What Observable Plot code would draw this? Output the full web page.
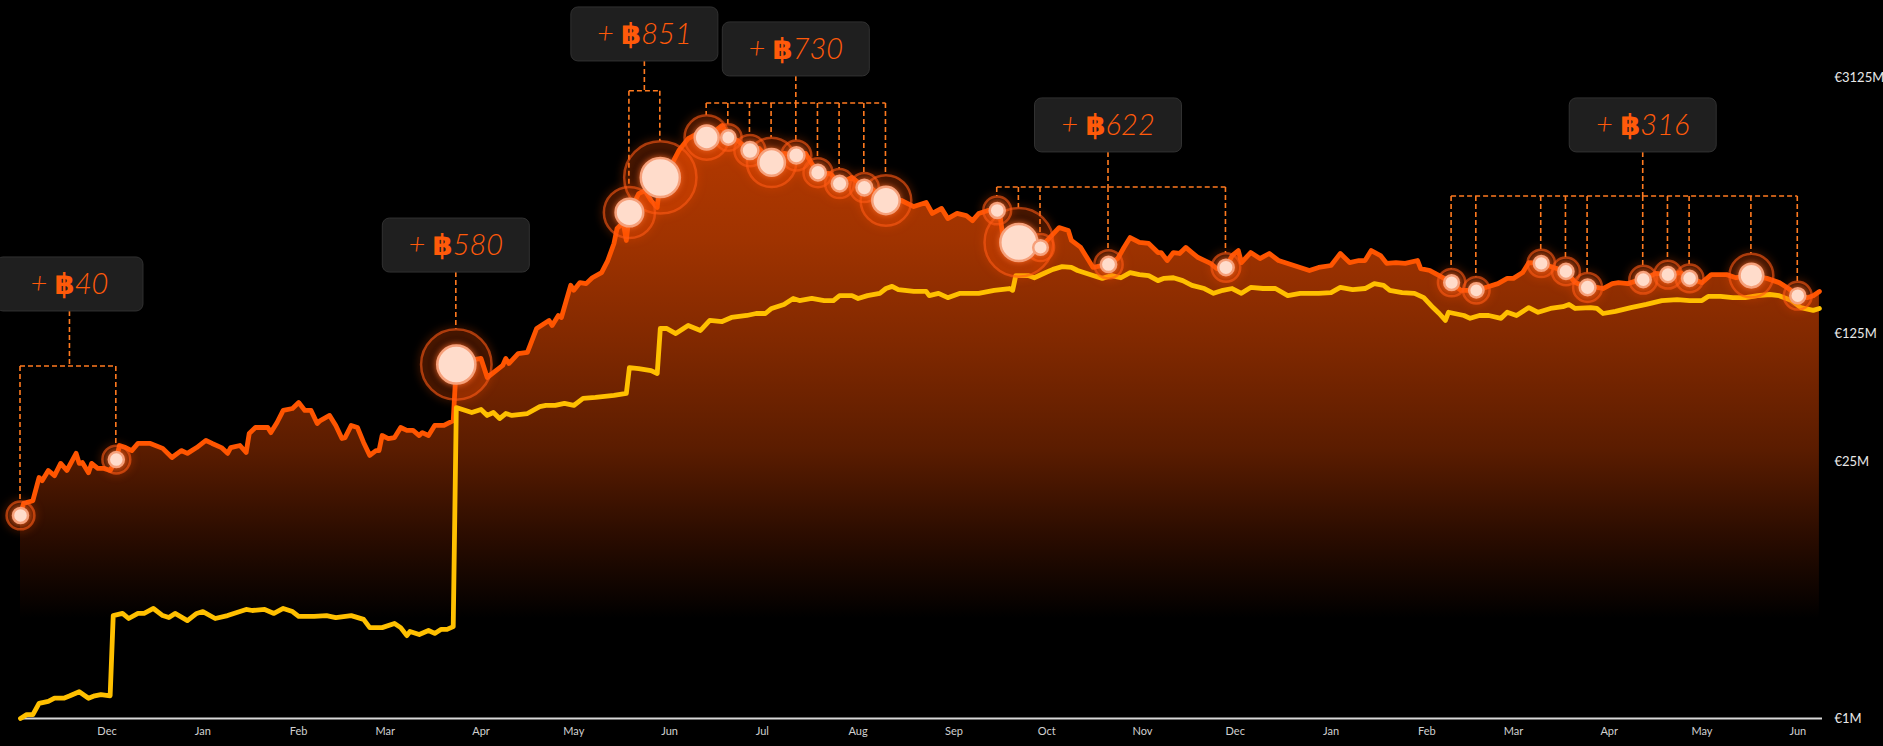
<!DOCTYPE html>
<html>
<head>
<meta charset="utf-8">
<script src="https://cdn.jsdelivr.net/npm/d3@7"></script>
<script src="https://cdn.jsdelivr.net/npm/@observablehq/plot@0.6"></script>
<style>
html, body { margin: 0; padding: 0; background: #000; overflow: hidden; }
#chart svg { display: block; }
</style>
</head>
<body>
<div id="chart"></div>
<script>
// Market value of the holdings, € millions (orange line + area)
const marketValue = [
["2020-11-03",12.8],["2020-11-04",14.9],["2020-11-07",15.4],["2020-11-09",20.6],["2020-11-10",19.8],["2020-11-12",22.5],["2020-11-14",21.1],["2020-11-16",24.6],["2020-11-18",22.5],["2020-11-21",27.9],["2020-11-22",24.6],["2020-11-23",24.9],["2020-11-25",21.9],["2020-11-26",24.6],["2020-11-28",23.1],["2020-11-30",23.1],
["2020-12-02",22.5],["2020-12-04",25.8],["2020-12-05",30.8],["2020-12-07",30.0],["2020-12-09",28.9],["2020-12-11",31.6],["2020-12-15",31.6],["2020-12-19",29.7],["2020-12-22",26.5],["2020-12-25",28.9],["2020-12-27",27.9],["2020-12-30",30.0],
["2021-01-02",32.8],["2021-01-04",31.6],["2021-01-07",30.0],["2021-01-09",27.9],["2021-01-10",30.0],["2021-01-13",30.8],["2021-01-15",28.2],["2021-01-16",35.8],["2021-01-18",38.6],["2021-01-22",38.6],["2021-01-23",36.2],["2021-01-25",41.1],["2021-01-27",47.8],["2021-01-30",49.0],
["2021-02-01",52.8],["2021-02-03",47.8],["2021-02-05",47.8],["2021-02-07",40.6],["2021-02-08",42.1],["2021-02-11",44.9],["2021-02-13",39.6],["2021-02-15",33.6],["2021-02-16",34.0],["2021-02-18",39.6],["2021-02-20",38.6],["2021-02-22",32.0],["2021-02-24",27.2],["2021-02-26",28.9],["2021-02-27",28.9],["2021-02-28",34.9],
["2021-03-02",33.6],["2021-03-04",34.0],["2021-03-06",38.6],["2021-03-08",37.2],["2021-03-10",37.2],["2021-03-12",34.9],["2021-03-13",36.2],["2021-03-15",34.9],["2021-03-17",39.6],["2021-03-20",39.6],["2021-03-23",42.1],["2021-03-24",85.1],["2021-03-28",89.5],
["2021-04-01",91.8],["2021-04-03",72.3],["2021-04-08",84.1],["2021-04-09",91.8],["2021-04-10",86.2],["2021-04-13",97.7],["2021-04-16",99.0],["2021-04-19",133.8],["2021-04-23",148],["2021-04-24",139],["2021-04-26",157.5],["2021-04-27",153.6],["2021-04-30",230],
["2021-05-01",216],["2021-05-03",238],["2021-05-05",235],["2021-05-07",253],["2021-05-10",270],["2021-05-12",314],["2021-05-14",389],["2021-05-15",469],["2021-05-17",506],["2021-05-18",404],["2021-05-19",574],["2021-05-22",728],["2021-05-24",756],["2021-05-26",667],["2021-05-28",611],["2021-05-29",891],
["2021-06-02",1076],["2021-06-04",1249],["2021-06-07",1451],["2021-06-10",1546],["2021-06-13",1471],["2021-06-18",1712],["2021-06-20",1471],["2021-06-23",1417],["2021-06-27",1249],["2021-06-30",1281],
["2021-07-04",1076],["2021-07-08",1205],["2021-07-12",1175],["2021-07-15",1205],["2021-07-17",1062],["2021-07-19",946],["2021-07-23",936],["2021-07-26",825],["2021-07-30",891],
["2021-08-03",785],["2021-08-05",785],["2021-08-10",667],["2021-08-15",667],["2021-08-19",618],["2021-08-23",651],["2021-08-25",567],["2021-08-28",604],["2021-08-30",532],
["2021-09-02",567],["2021-09-05",552],["2021-09-07",518],["2021-09-09",567],["2021-09-12",589],["2021-09-15",589],["2021-09-16",539],["2021-09-17",404],["2021-09-22",394],["2021-09-29",370],
["2021-10-02",419],["2021-10-05",475],["2021-10-08",458],["2021-10-09",404],["2021-10-12",370],["2021-10-14",326],["2021-10-16",288],["2021-10-19",295],["2021-10-21",299],["2021-10-24",322],["2021-10-26",370],["2021-10-28",419],["2021-10-31",394],
["2021-11-03",389],["2021-11-06",347],["2021-11-07",347],["2021-11-09",314],["2021-11-11",347],["2021-11-13",343],["2021-11-15",370],["2021-11-17",347],["2021-11-19",326],["2021-11-23",303],["2021-11-25",284],["2021-11-28",288],["2021-11-30",334],
["2021-12-02",356],["2021-12-03",306],["2021-12-06",347],["2021-12-09",322],["2021-12-12",343],["2021-12-15",314],["2021-12-20",295],["2021-12-25",277],["2021-12-28",288],
["2022-01-01",295],["2022-01-04",343],["2022-01-07",306],["2022-01-10",314],["2022-01-12",314],["2022-01-14",356],["2022-01-17",334],["2022-01-19",303],["2022-01-22",306],["2022-01-25",303],["2022-01-29",314],["2022-01-30",284],
["2022-02-02",277],["2022-02-05",260],["2022-02-09",238],["2022-02-12",216],["2022-02-17",216],["2022-02-20",224],["2022-02-24",235],["2022-02-27",251],
["2022-03-01",251],["2022-03-04",270],["2022-03-06",306],["2022-03-10",303],["2022-03-14",288],["2022-03-18",274],["2022-03-21",238],["2022-03-25",224],["2022-03-28",224],["2022-03-30",221],
["2022-04-02",235],["2022-04-04",238],["2022-04-07",235],["2022-04-10",244],["2022-04-12",247],["2022-04-16",267],["2022-04-20",263],["2022-04-24",270],["2022-04-27",251],
["2022-05-01",238],["2022-05-04",263],["2022-05-09",263],["2022-05-12",253],["2022-05-17",260],["2022-05-22",251],["2022-05-26",238],["2022-05-29",221],
["2022-06-01",202],["2022-06-04",197],["2022-06-06",202],["2022-06-08",213]
];

// Second series, € millions (yellow line)
const costBasis = [
["2020-11-03",1.0],["2020-11-05",1.05],["2020-11-07",1.05],["2020-11-09",1.21],["2020-11-12",1.24],["2020-11-14",1.29],["2020-11-17",1.29],["2020-11-19",1.33],["2020-11-22",1.40],["2020-11-25",1.29],["2020-11-27",1.33],["2020-11-29",1.35],
["2020-12-02",1.33],["2020-12-03",3.64],["2020-12-06",3.74],["2020-12-08",3.51],["2020-12-11",3.74],["2020-12-13",3.74],["2020-12-16",3.98],["2020-12-19",3.64],["2020-12-21",3.55],["2020-12-23",3.74],["2020-12-27",3.42],["2020-12-30",3.74],
["2021-01-01",3.83],["2021-01-05",3.51],["2021-01-09",3.64],["2021-01-11",3.74],["2021-01-15",3.93],["2021-01-17",3.88],["2021-01-21",3.93],["2021-01-24",3.74],["2021-01-27",3.98],["2021-01-30",3.83],
["2021-02-01",3.60],["2021-02-06",3.60],["2021-02-10",3.64],["2021-02-13",3.55],["2021-02-18",3.64],["2021-02-22",3.47],["2021-02-24",3.13],["2021-02-28",3.13],
["2021-03-04",3.30],["2021-03-06",3.13],["2021-03-08",2.83],["2021-03-09",2.98],["2021-03-12",2.87],["2021-03-15",3.02],["2021-03-17",2.91],["2021-03-19",3.06],["2021-03-21",3.06],["2021-03-23",3.17],["2021-03-24",49.6],["2021-03-29",46.6],
["2021-04-01",48.4],["2021-04-03",44.9],["2021-04-05",46.6],["2021-04-07",43.2],["2021-04-09",46.0],["2021-04-11",44.9],["2021-04-16",46.0],["2021-04-20",50.2],["2021-04-22",50.9],["2021-04-25",50.9],["2021-04-28",52.2],
["2021-05-01",50.9],["2021-05-04",55.6],["2021-05-08",56.3],["2021-05-14",57.7],["2021-05-18",59.2],["2021-05-19",81.9],["2021-05-22",80.9],["2021-05-26",78.9],["2021-05-28",76.0],["2021-05-29",133.8],["2021-05-31",133.8],
["2021-06-03",125.6],["2021-06-07",139],["2021-06-11",130.5],["2021-06-14",148],["2021-06-18",146],["2021-06-21",153.6],["2021-06-26",157.5],["2021-06-29",161.5],
["2021-07-02",161.5],["2021-07-04",172],["2021-07-08",181],["2021-07-11",195],["2021-07-13",190],["2021-07-17",195],["2021-07-21",190],["2021-07-24",190],["2021-07-26",202],["2021-07-30",202],
["2021-08-01",195],["2021-08-04",202],["2021-08-08",208],["2021-08-10",221],["2021-08-12",227],["2021-08-14",218],["2021-08-19",213],["2021-08-23",213],["2021-08-24",202],["2021-08-27",208],["2021-08-30",197],
["2021-09-03",208],["2021-09-09",208],["2021-09-14",216],["2021-09-19",221],["2021-09-20",216],["2021-09-21",260],["2021-09-25",260],["2021-09-27",253],["2021-09-30",267],
["2021-10-03",281],["2021-10-06",291],["2021-10-09",288],["2021-10-11",277],["2021-10-13",270],["2021-10-16",260],["2021-10-19",251],["2021-10-22",260],["2021-10-25",253],["2021-10-28",270],["2021-10-31",263],
["2021-11-03",260],["2021-11-06",244],["2021-11-08",251],["2021-11-11",253],["2021-11-14",244],["2021-11-17",230],["2021-11-21",221],["2021-11-24",208],["2021-11-27",216],["2021-11-30",221],
["2021-12-03",208],["2021-12-06",224],["2021-12-10",221],["2021-12-14",221],["2021-12-18",202],["2021-12-22",208],["2021-12-28",208],
["2022-01-01",210],["2022-01-04",224],["2022-01-08",218],["2022-01-12",221],["2022-01-15",235],["2022-01-18",230],["2022-01-20",216],["2022-01-24",210],["2022-01-28",208],["2022-01-31",197],
["2022-02-03",174],["2022-02-05",161.5],["2022-02-07",148],["2022-02-08",164],["2022-02-13",157.5],["2022-02-15",152],["2022-02-18",157.5],["2022-02-21",157.5],["2022-02-25",152],["2022-02-27",164],
["2022-03-02",157.5],["2022-03-06",174],["2022-03-09",164],["2022-03-13",172],["2022-03-17",176],["2022-03-19",181],["2022-03-21",172],["2022-03-26",174],["2022-03-28",172],["2022-03-30",161.5],
["2022-04-03",166],["2022-04-08",174],["2022-04-13",181],["2022-04-18",190],["2022-04-23",192],["2022-04-27",190],
["2022-05-01",190],["2022-05-03",200],["2022-05-07",200],["2022-05-11",197],["2022-05-15",197],["2022-05-19",202],["2022-05-23",205],["2022-05-26",202],["2022-05-30",190],
["2022-06-02",174],["2022-06-06",168],["2022-06-08",172]
];

// Purchases: date, BTC bought, callout group
const purchases = [
["2020-11-03",20,0],["2020-12-04",20,0],
["2021-03-24",580,1],
["2021-05-19",230,2],["2021-05-29",621,2],
["2021-06-13",145,3],["2021-06-20",15,3],["2021-06-27",36,3],["2021-07-04",205,3],["2021-07-12",30,3],["2021-07-19",25,3],["2021-07-26",25,3],["2021-08-03",25,3],["2021-08-10",224,3],
["2021-09-15",20,4],["2021-09-22",540,4],["2021-09-29",17,4],["2021-10-21",22,4],["2021-11-28",23,4],
["2022-02-09",18,5],["2022-02-17",15,5],["2022-03-10",18,5],["2022-03-18",20,5],["2022-03-25",25,5],["2022-04-12",20,5],["2022-04-20",20,5],["2022-04-27",20,5],["2022-05-17",140,5],["2022-06-01",20,5]
];

// Callout texts and where they are anchored (date, € level of bracket and of label)
const calloutLabels  = ["+ ฿40", "+ ฿580", "+ ฿851", "+ ฿730", "+ ฿622", "+ ฿316"];
const calloutAnchor  = ["2020-11-19", "2021-03-24", "2021-05-24", "2021-07-12", "2021-10-21", "2022-04-12"];
const calloutBracket = [83, null, 2632, 2254, 785, 702];
const calloutLevel   = [232.5, 379, 5365, 4445, 1712, 1712];

const yTicks = [1, 5, 25, 125, 625, 3125];
const monthStart = "2020-12-01", monthEnd = "2022-06-02";

// ---------------------------------------------------------------
const parse = d3.utcParse("%Y-%m-%d");
const mv = marketValue.map(([d, v]) => ({date: parse(d), value: v}));
const cb = costBasis.map(([d, v]) => ({date: parse(d), value: v}));
const mvByDate = new Map(marketValue);
const buys = purchases.map(([d, btc, g]) => ({date: parse(d), value: mvByDate.get(d), btc, group: g}));

const R_DOMAIN = [0, 600], R_RANGE = [4.9, 19.3], RING = 1.85;
const rScale = d3.scaleSqrt().domain(R_DOMAIN).range(R_RANGE);
const BOX_W = 147, BOX_H = 54;
const NS = "http://www.w3.org/2000/svg";
function el(name, attrs = {}) {
  const e = document.createElementNS(NS, name);
  for (const k in attrs) e.setAttribute(k, attrs[k]);
  return e;
}

function gradientDefs(index, scales) {
  const y = scales.y;
  const defs = el("defs");
  const lg = el("linearGradient", {id: "areaFade", gradientUnits: "userSpaceOnUse", x1: 0, x2: 0, y1: y(3125), y2: y(3.5)});
  [[0, "#c03d00"], [0.08, "#b73a00"], [0.30, "#a03300"], [0.50, "#7f2800"], [0.69, "#5a1c00"], [0.85, "#2a0c00"], [1, "#000000"]]
    .forEach(([o, c]) => lg.appendChild(el("stop", {offset: o, "stop-color": c})));
  defs.appendChild(lg);
  return defs;
}

function calloutLines(index, scales) {
  const {x, y} = scales;
  const g = el("g", {fill: "none", stroke: "#ff7a1f", "stroke-width": 1.6, "stroke-dasharray": "5,3"});
  const seg = (x1, y1, x2, y2) => g.appendChild(el("line", {x1, y1, x2, y2}));
  calloutLabels.forEach((label, i) => {
    const members = buys.filter(b => b.group === i);
    const ax = x(parse(calloutAnchor[i]));
    const boxBottom = y(calloutLevel[i]) + BOX_H / 2;
    const top = m => y(m.value) - rScale(m.btc) * RING;
    if (calloutBracket[i] == null) {
      seg(ax, boxBottom, ax, top(members[0]));
    } else {
      const by = y(calloutBracket[i]);
      seg(ax, boxBottom, ax, by);
      const xs = members.map(m => x(m.date));
      seg(d3.min(xs), by, d3.max(xs), by);
      members.forEach(m => seg(x(m.date), by, x(m.date), top(m)));
    }
  });
  return g;
}

function calloutBoxes(index, scales) {
  const {x, y} = scales;
  const g = el("g");
  calloutLabels.forEach((label, i) => {
    const cx = x(parse(calloutAnchor[i])), cy = y(calloutLevel[i]);
    g.appendChild(el("rect", {x: cx - BOX_W / 2, y: cy - BOX_H / 2, width: BOX_W, height: BOX_H, rx: 7,
      fill: "#1f1f1f", stroke: "#313131", "stroke-width": 1}));
    const t = el("text", {x: cx, y: cy, dy: "0.36em", "text-anchor": "middle", fill: "#ff5a0a",
      "font-size": 29, "font-family": "Lato, 'DejaVu Sans', sans-serif", "font-style": "italic", "font-weight": 300});
    const [pre, num] = label.split("฿");
    const a = el("tspan"); a.textContent = pre;
    const b = el("tspan", {"font-style": "normal", "font-weight": 700, "font-family": "'DejaVu Sans', Lato, sans-serif"}); b.textContent = "฿";
    const c = el("tspan"); c.textContent = num;
    t.appendChild(a); t.appendChild(b); t.appendChild(c);
    g.appendChild(t);
  });
  return g;
}

const plot = Plot.plot({
  width: 1883,
  height: 746,
  marginLeft: 20,
  marginRight: 61,
  marginTop: 77,
  marginBottom: 28,
  style: {background: "#000", color: "#e6e6e6", fontFamily: "Lato, 'DejaVu Sans', sans-serif", overflow: "visible"},
  x: {type: "utc", domain: [parse("2020-11-03"), parse("2022-06-09")], label: null},
  y: {type: "log", domain: [1, 3125], label: null},
  r: {type: "sqrt", domain: R_DOMAIN, range: R_RANGE},
  marks: [
    gradientDefs,
    Plot.areaY(mv, {x: "date", y1: 1, y2: "value", fill: "url(#areaFade)"}),
    Plot.ruleY([1], {stroke: "#d8d8d8", strokeWidth: 2}),
    Plot.line(mv, {x: "date", y: "value", stroke: "#ff5500", strokeWidth: 4.8, strokeLinejoin: "round", strokeLinecap: "round"}),
    Plot.line(cb, {x: "date", y: "value", stroke: "#ffc000", strokeWidth: 4.8, strokeLinejoin: "round", strokeLinecap: "round"}),
    calloutLines,
    Plot.dot(buys, {x: "date", y: "value", r: "btc", fill: "#ff4d00", fillOpacity: 0.14, stroke: "#ff5a14", strokeOpacity: 0.6, strokeWidth: 2.5}),
    Plot.dot(buys, {x: "date", y: "value", r: "btc", fill: "#ffdccb", stroke: "#f6a07a", strokeWidth: 2.5}),
    calloutBoxes,
    Plot.axisX({ticks: d3.utcMonth.range(parse(monthStart), parse(monthEnd)), tickFormat: d3.utcFormat("%b"), tickSize: 0, tickPadding: 9, fontSize: 11, color: "#d0d0d0", label: null}),
    Plot.axisY({anchor: "right", ticks: yTicks, tickFormat: d => `€${d}M`, tickSize: 0, tickPadding: 12, fontSize: 13, color: "#e8e8e8", label: null})
  ]
});

// The first dot layer is the halo ring, the second the bright core
const dotLayers = plot.querySelectorAll('g[aria-label="dot"]');
if (dotLayers.length >= 2) {
  dotLayers[0].querySelectorAll("circle").forEach(c => {
    c.setAttribute("r", (+c.getAttribute("r") * RING).toFixed(2));
  });
  dotLayers[0].style.filter = "drop-shadow(0 0 4px rgba(255, 80, 0, 0.75))";
  dotLayers[1].style.filter = "drop-shadow(0 0 3px rgba(255, 110, 40, 0.9))";
}
document.getElementById("chart").appendChild(plot);
</script>
</body>
</html>
